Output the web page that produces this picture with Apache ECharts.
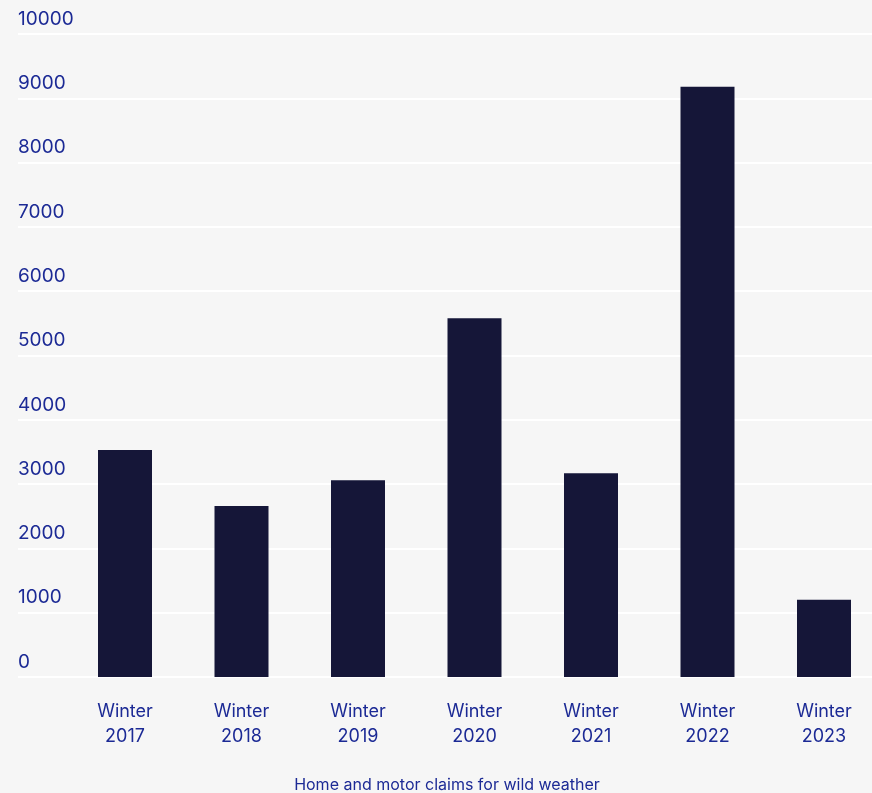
<!DOCTYPE html>
<html>
<head>
<meta charset="utf-8">
<style>
  html, body { margin: 0; padding: 0; background: #f6f6f6; }
  #chart { width: 872px; height: 793px; }
</style>
<script src="https://cdn.jsdelivr.net/npm/echarts@6/dist/echarts.min.js"></script>
</head>
<body>
<div id="chart"></div>
<script>
// Wild weather claims by winter
const categories = ['Winter\n2017', 'Winter\n2018', 'Winter\n2019', 'Winter\n2020', 'Winter\n2021', 'Winter\n2022', 'Winter\n2023'];
const claims = [3530, 2660, 3060, 5580, 3170, 9180, 1200];
const yMin = 0;
const yMax = 10000;
const yStep = 1000;
const caption = 'Home and motor claims for wild weather';

const textColor = '#1c2a95';
const fontFamily = 'Inter, "Noto Sans", sans-serif';

const chart = echarts.init(document.getElementById('chart'));
chart.setOption({
  backgroundColor: '#f6f6f6',
  animation: false,
  title: {
    text: caption,
    left: 447,
    textAlign: 'center',
    top: 777,
    padding: 0,
    textStyle: { color: textColor, fontFamily: fontFamily, fontSize: 16, lineHeight: 17, fontWeight: 'normal' }
  },
  grid: [
    // full-width grid carrying the gridlines and value labels
    { left: 18, right: 0, top: 34, bottom: 116 },
    // bar grid: categories sit on the ticks, first at the left edge, last at the right edge
    { left: 125, right: 48, top: 34, bottom: 116 }
  ],
  xAxis: [
    { gridIndex: 0, type: 'value', show: false },
    {
      gridIndex: 1,
      type: 'category',
      data: categories,
      boundaryGap: false,
      axisLine: { show: false },
      axisTick: { show: false },
      axisLabel: {
        color: textColor,
        fontFamily: fontFamily,
        fontSize: 18,
        lineHeight: 25,
        margin: 22
      }
    }
  ],
  yAxis: [
    {
      gridIndex: 0,
      type: 'value',
      min: yMin,
      max: yMax,
      interval: yStep,
      axisLine: { show: false },
      axisTick: { show: false },
      splitLine: { show: true, lineStyle: { color: '#ffffff', width: 2 } },
      axisLabel: {
        inside: true,
        margin: 0,
        align: 'left',
        verticalAlign: 'bottom',
        color: textColor,
        fontFamily: fontFamily,
        fontSize: 19,
        lineHeight: 20,
        padding: [0, 0, 5, 0],
        formatter: function (v) { return String(v); }
      }
    },
    {
      gridIndex: 1,
      type: 'value',
      min: yMin,
      max: yMax,
      interval: yStep,
      show: false,
      splitLine: { show: false }
    }
  ],
  series: [
    {
      type: 'bar',
      xAxisIndex: 1,
      yAxisIndex: 1,
      data: claims,
      barWidth: 54,
      itemStyle: { color: '#151638' }
    }
  ]
});
</script>
</body>
</html>
